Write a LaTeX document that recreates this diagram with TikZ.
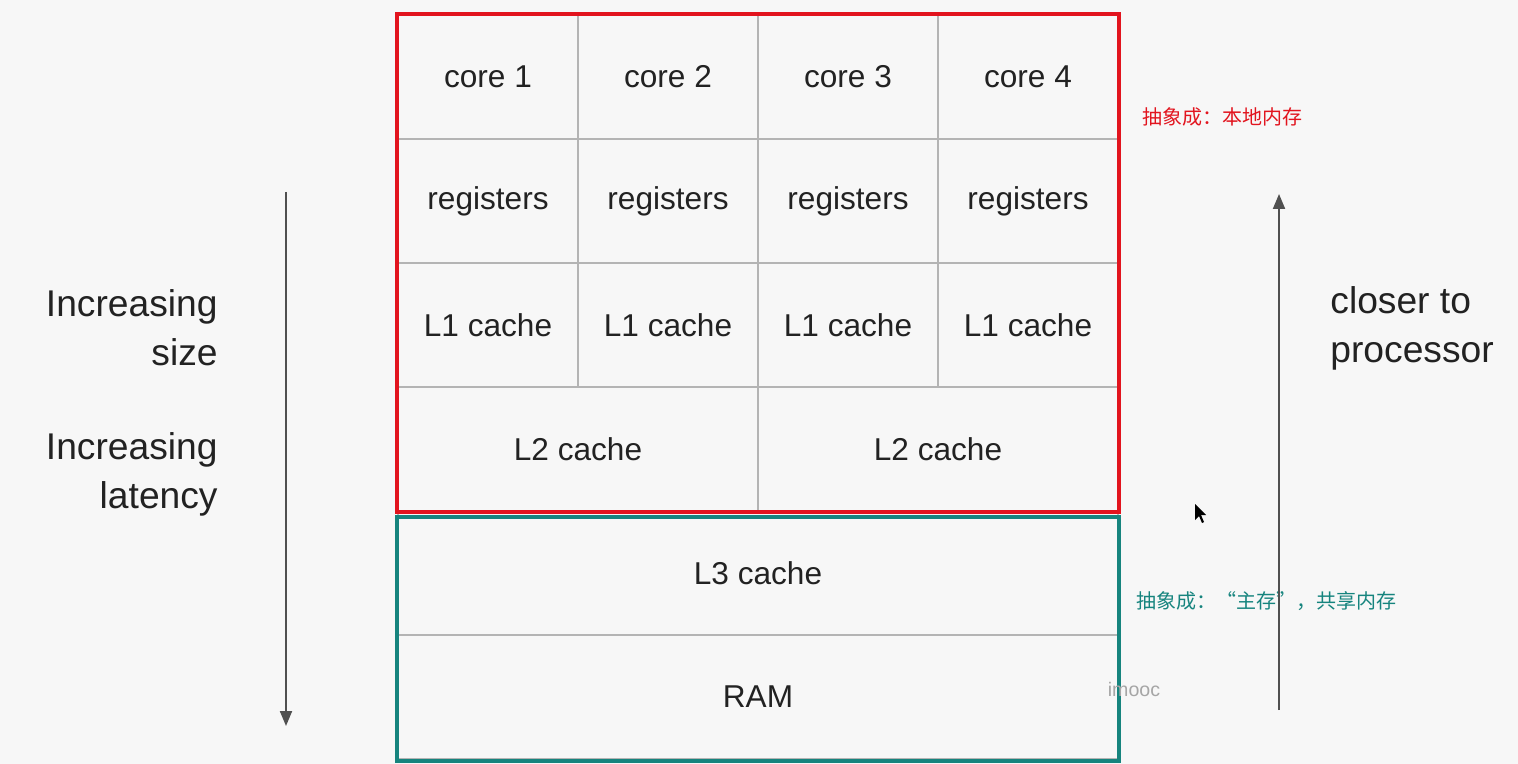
\documentclass[tikz,border=0pt]{standalone}
\usepackage{fontspec}
\setmainfont{Liberation Sans}
\newfontfamily\cjk{Noto Sans CJK SC}
\usepackage{xcolor}
\usepackage{tikz}
\usetikzlibrary{arrows.meta}

\definecolor{bgcol}{HTML}{F7F7F7}
\definecolor{gridcol}{HTML}{B4B4B4}
\definecolor{txtcol}{HTML}{222222}
\definecolor{boxred}{HTML}{E2141E}
\definecolor{boxteal}{HTML}{16847E}
\definecolor{arrcol}{HTML}{505050}

\tikzset{
  cell/.style={draw=gridcol,line width=1pt,minimum width=90pt,minimum height=62pt,
    inner sep=0pt,text=txtcol,font=\fontsize{15.8}{18}\selectfont},
  widecell/.style={cell,minimum width=180pt},
  fullcell/.style={cell,minimum width=360pt},
  sidelabel/.style={text=txtcol,font=\fontsize{18.6}{24.5}\selectfont,inner sep=0pt},
  note/.style={font=\cjk\fontsize{10}{12}\selectfont,inner sep=0pt,anchor=west}
}

\begin{document}
\begin{tikzpicture}[x=0.5pt,y=-0.5pt]
\fill[bgcol] (0,0) rectangle (1518,764);
\useasboundingbox (0,0) rectangle (1518,764);

% cores, registers and L1 caches
\foreach \i in {1,...,4} {
    \node[cell] (core\i) at ({308+180*\i},77) {core \i};
    \node[cell] (reg\i) at ({308+180*\i},201) {registers};
    \node[cell] (lone\i) at ({308+180*\i},325) {L1 cache};
}
\node[widecell] (ltwoa) at (578,449) {L2 cache};
\node[widecell] (ltwob) at (938,449) {L2 cache};
\node[fullcell] (lthree) at (758,573) {L3 cache};
\node[fullcell] (ram) at (758,697) {RAM};

% local and shared memory
\draw[boxred,line width=1.6pt] (core1.north west) rectangle (ltwob.south east);
\draw[boxteal,line width=1.6pt] ([yshift=-3.5pt]lthree.north west) rectangle ([yshift=-0.5pt]ram.south east);
\node[note,text=boxred] (local) at (1142,117) {抽象成：本地内存};
\node[note,text=boxteal] (shared) at (1136,601) {抽象成：“主存”，共享内存};

% size and latency
\coordinate (dtop) at (286,192);
\coordinate (dbot) at (286,726);
\draw[-{Triangle[length=7.5pt,width=6pt]},arrcol,line width=1pt] (dtop) -- (dbot);
\node[sidelabel,align=right,anchor=east] (size) at (218,328) {Increasing\\size};
\node[sidelabel,align=right,anchor=east] (latency) at (218,474) {Increasing\\latency};

% distance to processor
\coordinate (ubot) at (1279,710);
\coordinate (utop) at (1279,194);
\draw[-{Triangle[length=7.5pt,width=6pt]},arrcol,line width=1pt] (ubot) -- (utop);
\node[sidelabel,align=left,anchor=west] (closer) at (1330,328) {closer to\\processor};

% watermark and pointer
\node[text=gray!70,font=\fontsize{9.8}{12}\selectfont,inner sep=0pt] (wm) at (1134,689) {imooc};
\fill[black] (1195,504) -- (1195,520) -- (1199,516) -- (1202,523) -- (1204,522) -- (1201,515) -- (1206,515) -- cycle;
\end{tikzpicture}
\end{document}
